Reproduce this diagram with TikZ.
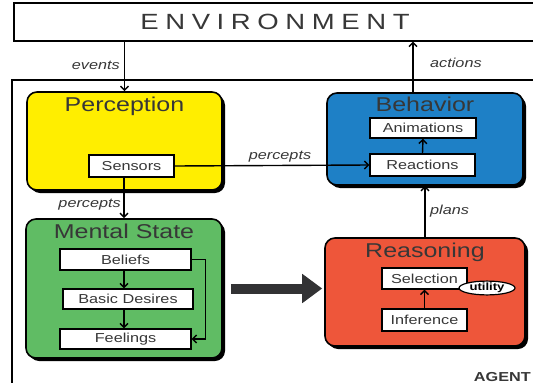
\documentclass[tikz,border=0pt]{standalone}
\usepackage{fontspec}
\setmainfont{Liberation Sans}[FakeStretch=1.25]
\usetikzlibrary{arrows.meta,shadows,shapes.geometric,positioning}
\definecolor{percYellow}{RGB}{255,238,0}
\definecolor{behBlue}{RGB}{30,128,198}
\definecolor{mentGreen}{RGB}{96,188,100}
\definecolor{reasRed}{RGB}{238,86,58}
\definecolor{titleGray}{RGB}{55,55,55}
\definecolor{arrGray}{RGB}{50,50,52}
\tikzset{
  module/.style={draw=black, line width=1.6pt, rounded corners=10pt, inner sep=0pt,
    drop shadow={shadow xshift=3pt, shadow yshift=-3pt, opacity=1, fill=black}},
  part/.style={draw=black, fill=white, line width=1.4pt, inner sep=0pt, text=titleGray,
    font=\fontsize{13}{15}\selectfont},
  ttl/.style={anchor=base, inner sep=0pt, text=titleGray, font=\fontsize{20}{22}\selectfont},
  lbl/.style={inner sep=2pt, text=titleGray, font=\itshape\fontsize{13}{15}\selectfont},
  arr/.style={line width=1.4pt, -{Straight Barb[length=4pt,width=8pt]}},
  bigarr/.style={draw=arrGray, line width=10pt, -{Triangle[length=20pt,width=28pt]}}
}
\begin{document}
\begin{tikzpicture}[x=1pt,y=-1pt]
    \useasboundingbox (0,0) rectangle (533,383);
    \clip (0,0) rectangle (533,383);

    %Shape: Agent frame
    \draw [line width=1.2pt] (12,80) rectangle (545,395);
    %Shape: Environment
    \node [draw, fill=white, line width=1.2pt, minimum width=522pt, minimum height=38pt, inner sep=0pt,
      text=titleGray, font=\fontsize{22}{24}\selectfont\addfontfeature{LetterSpace=30}] (env) at (275,22) {ENVIRONMENT};

    %Shape: Modules
    \node [module, fill=percYellow, minimum width=195pt, minimum height=98pt] (perc) at (124.5,141) {};
    \node [module, fill=behBlue, minimum width=196pt, minimum height=92pt] (beh) at (425,139) {};
    \node [module, fill=mentGreen, minimum width=196pt, minimum height=139pt] (ment) at (124,288.5) {};
    \node [module, fill=reasRed, minimum width=200pt, minimum height=108pt] (reas) at (425,292) {};

    % Text Node
    \node [ttl] (percT) at ([yshift=-20pt]perc.north) {Perception};
    \node [ttl] (behT) at ([yshift=-19pt]beh.north) {Behavior};
    \node [ttl] (mentT) at ([yshift=-20pt]ment.north) {Mental State};
    \node [ttl] (reasT) at ([yshift=-20pt]reas.north) {Reasoning};

    %Shape: Parts
    \node [part, minimum width=85pt, minimum height=22pt] (sens) at (131.5,166) {Sensors};
    \node [part, minimum width=106pt, minimum height=20pt] (anim) at (423,128) {Animations};
    \node [part, minimum width=105pt, minimum height=22pt] (react) at (422.5,165) {Reactions};
    \node [part, minimum width=131pt, minimum height=21pt] (bel) at (125.5,259.5) {Beliefs};
    \node [part, minimum width=130pt, minimum height=20pt] (des) at (128,299) {Basic Desires};
    \node [part, minimum width=131pt, minimum height=20pt] (feel) at (125.5,339) {Feelings};
    \node [part, minimum width=85pt, minimum height=21pt] (sel) at (424.5,278.5) {Selection};
    \node [part, minimum width=85pt, minimum height=22pt] (inf) at (424.5,320) {Inference};
    \node [ellipse, draw=black, fill=white, line width=1.2pt, minimum width=56pt, minimum height=13pt, inner sep=0pt,
      font=\bfseries\fontsize{10.5}{12}\selectfont] (util) at (487,288) {utility};

    %Straight Lines
    \draw [arr] (perc.north |- env.south) -- (perc.north);
    \draw [arr] ([xshift=-12pt]beh.north) -- ([xshift=-12pt]beh.north |- env.south);
    \draw [arr] (sens.south -| ment.north) -- (ment.north);
    \draw [arr] (sens.east) -- (react.west);
    \draw [arr] (react.north) -- (anim.south);
    \draw [arr] (reas.north) -- (beh.south);
    \draw [arr] (bel.south -| ment.north) -- (des.north -| ment.north);
    \draw [arr] (des.south -| ment.north) -- (feel.north -| ment.north);
    \draw [arr] (bel.east) -- ++(14,0) |- (feel.east);
    \draw [arr] (inf.north) -- (sel.south);
    \draw [bigarr] ([xshift=8pt]ment.east) -- ([xshift=-2pt]ment.east -| reas.west);

    % Text Node
    \node [lbl, anchor=east] (evL) at (122,65) {events};
    \node [lbl, anchor=west] (actL) at (428,63) {actions};
    \node [lbl, anchor=east] (perL) at (123,205) {percepts};
    \node [lbl, anchor=south] (perR) at (280,164) {percepts};
    \node [lbl, anchor=west] (plL) at (428,211) {plans};
    \node [anchor=east, inner sep=0pt, text=titleGray, font=\bfseries\fontsize{13}{15}\selectfont] (agentL) at (531,377) {AGENT};
\end{tikzpicture}
\end{document}
